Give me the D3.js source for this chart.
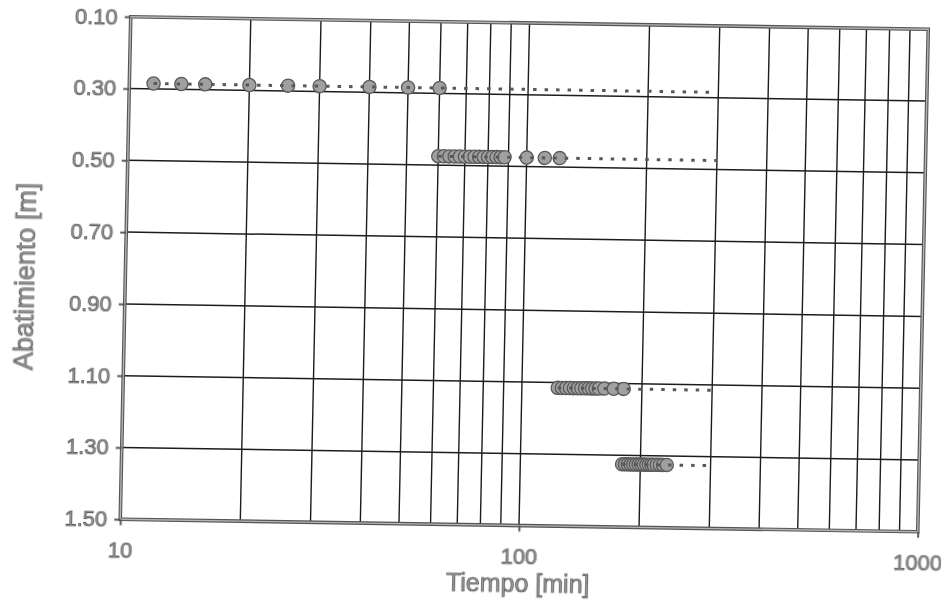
<!DOCTYPE html>
<html>
<head>
<meta charset="utf-8">
<script src="https://cdn.jsdelivr.net/npm/d3@7"></script>
<style>
  html, body { margin: 0; background: #fff; }
  svg { display: block; }
  text { -webkit-font-smoothing: antialiased; }
</style>
</head>
<body>
<svg id="chart" width="941" height="601"></svg>
<script>
// Axis ticks
const yTicks = [0.10, 0.30, 0.50, 0.70, 0.90, 1.10, 1.30, 1.50];
const xTicks = [10, 100, 1000];
const xGrid = [20, 30, 40, 50, 60, 70, 80, 90, 100, 200, 300, 400, 500, 600, 700, 800, 900];
const yGrid = [0.30, 0.50, 0.70, 0.90, 1.10, 1.30];

// Drawdown readings per pumping step: time [min], drawdown [m], end of trend line [min]
const step1Times = [11.5, 13.5, 15.5, 20, 25, 30, 40, 50, 60];
const step1Level = 0.285;
const step1End = 295;

const step2Times = [60, 62, 64, 66, 68, 70, 72, 74, 76, 78, 80, 82, 84, 86, 88, 100, 111, 121];
const step2Level = 0.475;
const step2End = 300;

const step3Times = [123, 126, 129, 132, 135, 138, 141, 144, 147, 150, 153, 156, 161, 170, 180];
const step3Level = 1.115;
const step3End = 300;

const step4Times = [180, 183, 186, 189, 192, 195, 198, 201, 204, 207, 210, 213, 216, 220, 224, 228, 233];
const step4Level = 1.325;
const step4End = 295;

const steps = [
  { times: step1Times, level: step1Level, end: step1End },
  { times: step2Times, level: step2Level, end: step2End },
  { times: step3Times, level: step3Level, end: step3End },
  { times: step4Times, level: step4Level, end: step4End }
];

const W = 797.5, H = 502.5;
const FONT = "'Liberation Sans', Arial, sans-serif";
const TEXT_FILL = "#999", TEXT_STROKE = "#3a3a3a";

const svg = d3.select("#chart");
// the whole sheet sits slightly tilted on the page
const g = svg.append("g")
  .attr("transform", "matrix(1,0.01567,-0.0209,1,130.75,16.75)");

const x = d3.scaleLog().domain([10, 1000]).range([0, W]);
const y = d3.scaleLinear().domain([0.10, 1.50]).range([0, H]);

// grid
g.append("g").selectAll("line").data(xGrid).join("line")
  .attr("x1", d => x(d)).attr("x2", d => x(d))
  .attr("y1", 0).attr("y2", H)
  .attr("stroke", "#1c1c1c").attr("stroke-width", 1.4);

g.append("g").selectAll("line").data(yGrid).join("line")
  .attr("x1", 0).attr("x2", W)
  .attr("y1", d => y(d)).attr("y2", d => y(d))
  .attr("stroke", "#1c1c1c").attr("stroke-width", 1.5);

// frame
g.append("rect").attr("x", 0).attr("y", 0).attr("width", W).attr("height", H)
  .attr("fill", "none").attr("stroke", "#555").attr("stroke-width", 3.6);
g.append("rect").attr("x", 0).attr("y", 0).attr("width", W).attr("height", H)
  .attr("fill", "none").attr("stroke", "#b4b4b4").attr("stroke-width", 1.4);

// labels live in a translucent layer so they render with grayscale smoothing
const labels = g.append("g").attr("opacity", 0.99);

// axes
const yAxis = labels.append("g")
  .call(d3.axisLeft(y).tickValues(yTicks).tickFormat(d3.format(".2f")).tickSize(6).tickPadding(7));
const xAxis = labels.append("g").attr("transform", `translate(0,${H})`)
  .call(d3.axisBottom(x).tickValues(xTicks).tickFormat(d => String(d)).tickSize(6).tickPadding(17));

[yAxis, xAxis].forEach(a => {
  a.select(".domain").remove();
  a.selectAll(".tick line").attr("stroke", "#555").attr("stroke-width", 2);
  a.selectAll(".tick text")
    .attr("font-family", FONT).attr("font-size", 22)
    .attr("fill", TEXT_FILL).attr("stroke", TEXT_STROKE).attr("stroke-width", 0.6);
});

// axis titles
labels.append("text")
  .attr("x", W / 2).attr("y", H + 66)
  .attr("text-anchor", "middle")
  .attr("font-family", FONT).attr("font-size", 25)
  .attr("fill", TEXT_FILL).attr("stroke", TEXT_STROKE).attr("stroke-width", 0.6)
  .text("Tiempo [min]");

labels.append("text")
  .attr("transform", `translate(-100,${H / 2 + 10}) rotate(-90)`)
  .attr("text-anchor", "middle").attr("dominant-baseline", "central")
  .attr("font-family", FONT).attr("font-size", 27)
  .attr("fill", TEXT_FILL).attr("stroke", TEXT_STROKE).attr("stroke-width", 0.6)
  .text("Abatimiento [m]");

// readings and dotted trend lines
const series = g.append("g");
steps.forEach(s => {
  const grp = series.append("g");
  grp.selectAll("circle").data(s.times).join("circle")
    .attr("cx", d => x(d)).attr("cy", y(s.level)).attr("r", 6.6)
    .attr("fill", "#a0a0a0").attr("stroke", "#5a5a5a").attr("stroke-width", 1.3);
  grp.append("line")
    .attr("x1", x(s.times[0])).attr("x2", x(s.end))
    .attr("y1", y(s.level)).attr("y2", y(s.level))
    .attr("stroke", "#585858").attr("stroke-width", 3)
    .attr("stroke-dasharray", "3.5,8");
});
</script>
</body>
</html>
